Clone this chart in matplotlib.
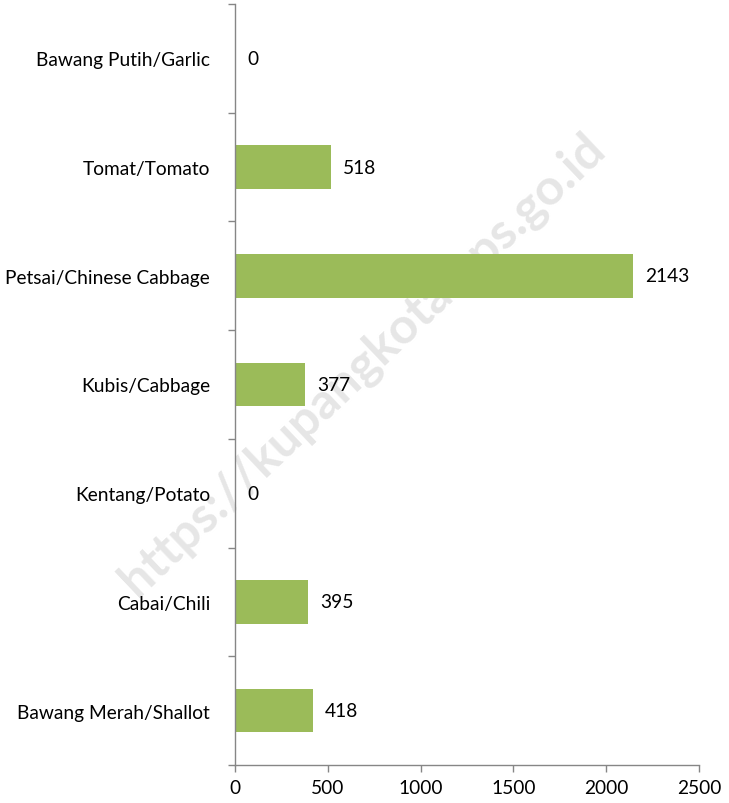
import matplotlib
matplotlib.use("Agg")
import matplotlib.pyplot as plt
import numpy as np
from matplotlib.ticker import FixedLocator

categories = ["Bawang Putih/Garlic", "Tomat/Tomato", "Petsai/Chinese Cabbage",
              "Kubis/Cabbage", "Kentang/Potato", "Cabai/Chili", "Bawang Merah/Shallot"]
values = [0, 518, 2143, 377, 0, 395, 418]
xticks = [0, 500, 1000, 1500, 2000, 2500]

plt.rcParams['font.family'] = ['Lato', 'DejaVu Sans']
fs = 13.8

fig = plt.figure(figsize=(7.29, 8.04), dpi=100)
ax = fig.add_axes([0.3224, 0.0473, 0.9588 - 0.3224, 0.9938 - 0.0473])
ax.patch.set_visible(False)

n = len(categories)
ypos = np.arange(n)[::-1]
ax.barh(ypos, values, height=0.4, color="#9BBB59", zorder=2)
ax.set_ylim(-0.5, n - 0.5)
ax.set_xlim(0, 2500)
ax.set_xticks(xticks)
ax.set_xticklabels([str(t) for t in xticks], fontsize=fs)
ax.set_yticks(ypos)
ax.set_yticklabels(categories, fontsize=fs)
ax.tick_params(axis='y', which='major', length=0, pad=18)
ax.yaxis.set_minor_locator(FixedLocator(np.arange(-0.5, n, 1.0)))
ax.tick_params(axis='y', which='minor', length=5, color="#868686", width=1)
ax.tick_params(axis='x', length=5, color="#868686", width=1, pad=5)
for s in ['top', 'right']:
    ax.spines[s].set_visible(False)
for s in ['left', 'bottom']:
    ax.spines[s].set_color("#868686")
    ax.spines[s].set_linewidth(1)

for y, v in zip(ypos, values):
    ax.text(v + 65, y, str(v), va='center', ha='left', fontsize=fs, zorder=4)

ax.text(0.497, 0.546, "https://kupangkota.bps.go.id", rotation=43.5,
        transform=fig.transFigure, clip_on=False,
        ha='center', va='center', fontsize=36, fontweight='bold',
        color="#e6e6e6", zorder=1)

fig.savefig("out.png", dpi=100)
